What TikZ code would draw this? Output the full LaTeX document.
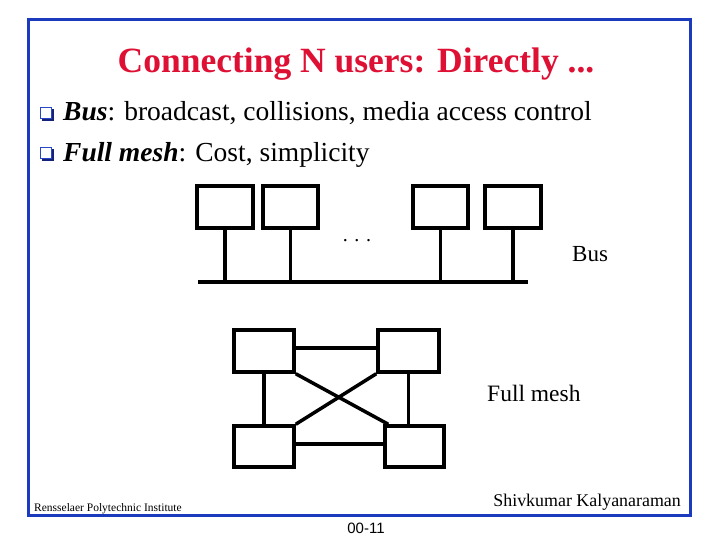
\documentclass[tikz,border=0pt]{standalone}
\usepackage{fontspec}
\setmainfont{Liberation Serif}
\newfontfamily\footsans{Liberation Sans}
\definecolor{framecol}{RGB}{28,58,190}
\definecolor{titlecol}{RGB}{222,16,52}
\definecolor{bulletcol}{RGB}{40,70,200}
\definecolor{bulletshadow}{RGB}{20,35,120}
\begin{document}
\begin{tikzpicture}[x=1pt,y=-1pt,
  box/.style={draw=black,line width=3.5pt,rectangle,inner sep=0pt,fill=white},
  wire/.style={draw=black,line width=3.5pt},
  txt/.style={inner sep=0pt,anchor=base west,text=black}]
\useasboundingbox (0,0) rectangle (720,540);
\draw[framecol,line width=3pt] (28.5,19.5) rectangle (690,515);
% title
\node[txt,anchor=base,text=titlecol,font=\fontsize{35.5}{40}\selectfont\bfseries] (title) at (356,73) {Connecting N users: Directly ...};
% bullets
\foreach \yy in {107,147}{
  \fill[bulletshadow] (42,\yy+2) rectangle (54,\yy+14);
  \draw[bulletcol,line width=1.8pt,fill=white] (40.5,\yy+.5) rectangle (51.5,\yy+11.5);
}
\node[txt,font=\fontsize{27.5}{32}\selectfont] (l1) at (63,121) {\textbf{\textit{Bus}}: broadcast, collisions, media access control};
\node[txt,font=\fontsize{27.5}{32}\selectfont] (l2) at (63,162) {\textbf{\textit{Full mesh}}: Cost, simplicity};
% bus
\node[box,minimum width=56pt,minimum height=42pt] (b1) at (225,207) {};
\node[box,minimum width=55pt,minimum height=42pt] (b2) at (290.5,207) {};
\node[box,minimum width=55pt,minimum height=42pt] (b3) at (440.5,207) {};
\node[box,minimum width=56pt,minimum height=42pt] (b4) at (513,207) {};
\coordinate (busL) at (198,282);
\coordinate (busR) at (528,282);
\draw[wire] (busL) -- (busR);
\foreach \b in {b1,b2,b3,b4}{\draw[wire] (\b.south) -- (\b.south |- busL);}
\node[txt,anchor=base,font=\fontsize{20}{24}\selectfont] (dots) at (357,241) {. . .};
\node[txt,font=\fontsize{23}{27}\selectfont] (buslbl) at (572,261) {Bus};
% mesh
\node[box,minimum width=60pt,minimum height=42pt] (tl) at (264,351) {};
\node[box,minimum width=61pt,minimum height=42pt] (tr) at (408.5,351) {};
\node[box,minimum width=60pt,minimum height=41pt] (bl) at (264,446.5) {};
\node[box,minimum width=59pt,minimum height=41pt] (br) at (414.5,446.5) {};
\draw[wire] ([yshift=3pt]tl.east) -- ([yshift=3pt]tl.east -| tr.west);
\draw[wire] ([yshift=2.5pt]bl.east) -- ([yshift=2.5pt]bl.east -| br.west);
\draw[wire] (tl.south) -- (bl.north);
\draw[wire] (tr.south) -- (tr.south |- br.north);
\draw[wire] (tl.south east) -- ([xshift=5pt]br.north west);
\draw[wire] (tr.south west) -- (bl.north east);
\node[txt,font=\fontsize{23.5}{27}\selectfont] (meshlbl) at (487,401) {Full mesh};
% footer
\node[txt,font=\fontsize{11.5}{13}\selectfont] (rpi) at (34,511) {Rensselaer Polytechnic Institute};
\node[txt,anchor=base east,font=\fontsize{17.9}{21}\selectfont] (author) at (681,506) {Shivkumar Kalyanaraman};
\node[txt,anchor=base,font=\footsans\fontsize{15}{18}\selectfont] (page) at (366,533) {00-11};
\end{tikzpicture}
\end{document}
